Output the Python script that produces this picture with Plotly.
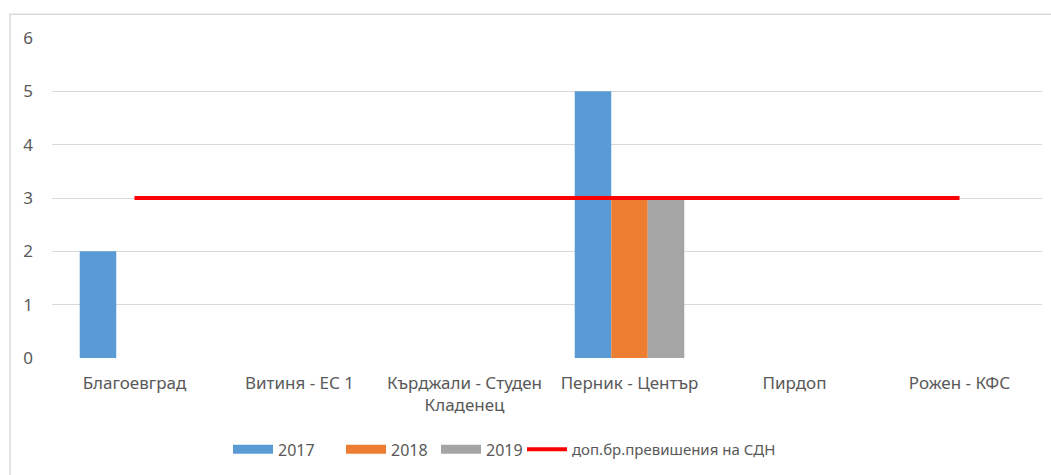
import plotly.graph_objects as go

# Stations and counts of exceedances per year
stations = ["Благоевград", "Витиня - ЕС 1", "Кърджали - Студен<br>Кладенец",
            "Перник - Център", "Пирдоп", "Рожен - КФС"]
y2017 = [2, 0, 0, 5, 0, 0]
y2018 = [0, 0, 0, 3, 0, 0]
y2019 = [0, 0, 0, 3, 0, 0]
allowed = [3, 3, 3, 3, 3, 3]
y_ticks = [0, 1, 2, 3, 4, 5, 6]

c2017 = "#5B9BD5"
c2018 = "#ED7D31"
c2019 = "#A5A5A5"
c_lim = "#FF0000"
text_col = "#595959"
grid_col = "#D9D9D9"
font_family = "'Noto Sans', 'Open Sans', sans-serif"

fig = go.Figure()

for name, vals, col in [("2017", y2017, c2017), ("2018", y2018, c2018), ("2019", y2019, c2019)]:
    fig.add_trace(go.Bar(x=stations, y=vals, name=name, marker=dict(color=col, line=dict(width=0)),
                         showlegend=False))

fig.add_trace(go.Scatter(x=stations, y=allowed, mode="lines", name="доп.бр.превишения на СДН",
                         line=dict(color=c_lim, width=4), showlegend=False))

W, H = 1051, 475
ml, mr, mt, mb = 52, 9, 38, 115
pw, ph = W - ml - mr, H - mt - mb

# Legend entries drawn as wide swatches, each in its own legend box
legend_items = [("2017", c2017, 9, 228, 16), ("2018", c2018, 9, 341, 16),
                ("2019", c2019, 9, 436, 16), ("доп.бр.превишения на СДН", c_lim, 4, 522, 15)]
legend_layout = {}
for i, (name, col, w, px, fs) in enumerate(legend_items):
    key = "legend" if i == 0 else f"legend{i + 1}"
    fig.add_trace(go.Scatter(x=[None], y=[None], mode="lines", name=name,
                             line=dict(color=col, width=w), showlegend=True, legend=key))
    legend_layout[key] = dict(orientation="h", x=(px - ml) / pw, xanchor="left",
                              y=(H - mb - 452) / ph, yanchor="middle",
                              font=dict(size=fs, color=text_col), itemwidth=40,
                              bgcolor="rgba(0,0,0,0)")

# Chart-area frame
fig.add_shape(type="rect", xref="paper", yref="paper",
              x0=(10 - ml) / pw, x1=(1056 - ml) / pw,
              y0=(H - mb - 480) / ph, y1=(H - mb - 14) / ph,
              line=dict(color=grid_col, width=1.5), fillcolor="rgba(0,0,0,0)", layer="below")

fig.update_layout(
    width=W, height=H,
    margin=dict(l=ml, r=mr, t=mt, b=mb),
    paper_bgcolor="white", plot_bgcolor="white",
    barmode="group", bargap=0.336, bargroupgap=0,
    font=dict(family=font_family, size=17, color=text_col),
    xaxis=dict(showgrid=False, showline=False, zeroline=False, ticks="",
               tickfont=dict(size=17, color=text_col), ticklabelstandoff=13),
    yaxis=dict(range=[0, 6], tickvals=y_ticks, showgrid=True, gridcolor=grid_col, gridwidth=1.3,
               zeroline=False, showline=False, ticks="",
               tickfont=dict(size=17, color=text_col), ticklabelstandoff=18),
    **legend_layout,
)

fig.write_html("out.html")
